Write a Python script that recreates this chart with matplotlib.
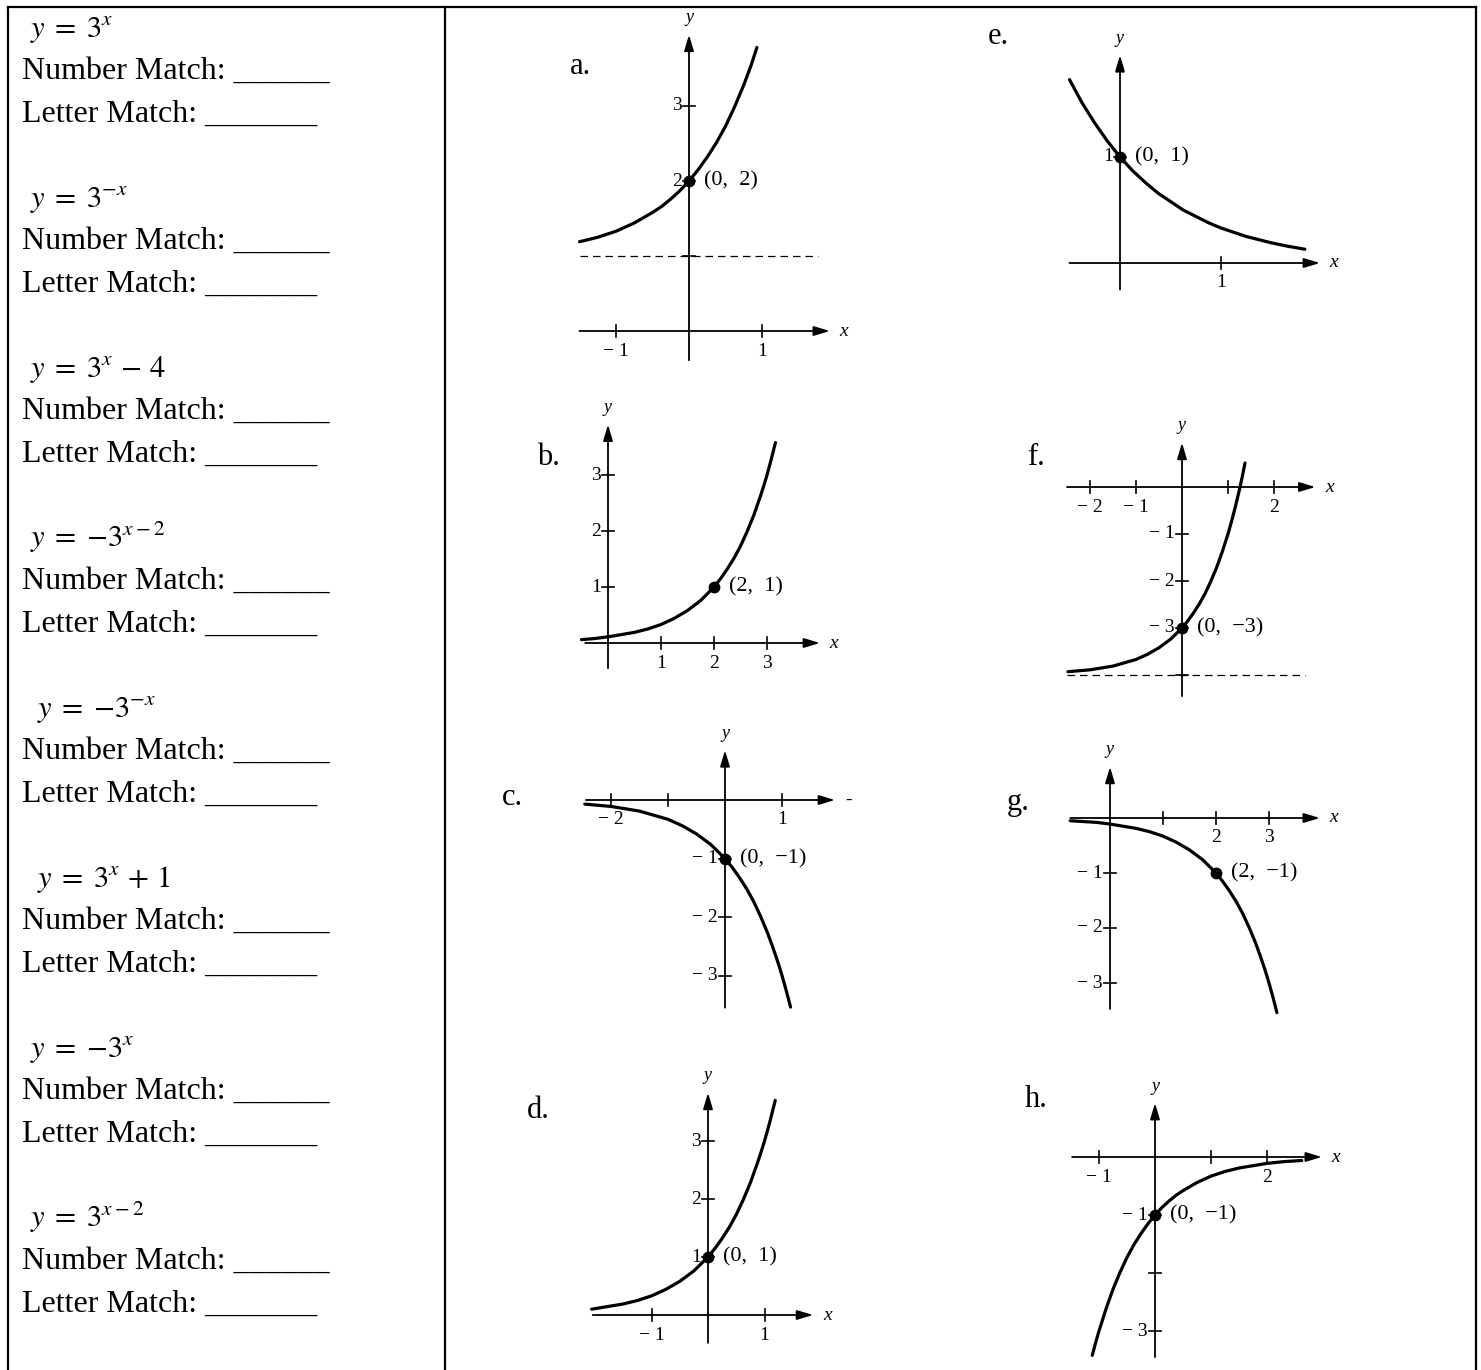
import matplotlib.pyplot as plt

plt.rcParams['font.family'] = ['Liberation Serif', 'DejaVu Serif']
plt.rcParams['mathtext.fontset'] = 'stix'

W, H = 1481, 1370

# left column: the eight equations
formulas = [r'$y\;=\;3^{x}$', r'$y\;=\;3^{-x}$', r'$y\;=\;3^{x}\,-\,4$', r'$y\;=\;{-}3^{x-2}$',
            r'$y\;=\;{-}3^{-x}$', r'$y\;=\;3^{x}\,+\,1$', r'$y\;=\;{-}3^{x}$', r'$y\;=\;3^{x-2}$']
number_line = 'Number Match: ______'
letter_line = 'Letter Match: _______'

# curves (x, y in graph units)
a_x = [-1.5, -1.25, -1.0, -0.75, -0.5, -0.375, -0.25, -0.125, 0.0, 0.125, 0.25, 0.375, 0.5, 0.625, 0.75, 0.85, 0.93]
a_y = [1.19, 1.25, 1.33, 1.44, 1.58, 1.66, 1.76, 1.87, 2.00, 2.15, 2.32, 2.51, 2.73, 2.99, 3.28, 3.54, 3.78]
b_x = [-0.5, -0.25, 0.0, 0.25, 0.5, 0.75, 1.0, 1.25, 1.5, 1.75, 2.0, 2.125, 2.25, 2.375, 2.5, 2.625,
       2.75, 2.875, 2.94, 3.0, 3.08, 3.16]
b_y = [0.06, 0.08, 0.11, 0.15, 0.19, 0.25, 0.33, 0.44, 0.58, 0.76, 1.00, 1.15, 1.32, 1.51, 1.73, 1.99,
       2.28, 2.62, 2.81, 3.00, 3.28, 3.58]
c_x = [-2.46, -2.0, -1.5, -1.0, -0.75, -0.5, -0.25, 0.0, 0.125, 0.25, 0.375, 0.5, 0.625, 0.75, 0.825,
       0.9, 0.95, 1.0, 1.075, 1.15]
c_y = [-0.07, -0.11, -0.19, -0.33, -0.44, -0.58, -0.76, -1.00, -1.15, -1.32, -1.51, -1.73, -1.99, -2.28, -2.48,
       -2.69, -2.84, -3.00, -3.26, -3.54]
d_x = [-2.06, -1.75, -1.5, -1.25, -1.0, -0.75, -0.5, -0.25, 0.0, 0.125, 0.25, 0.375, 0.5, 0.625, 0.75,
       0.875, 0.94, 1.0, 1.05, 1.1, 1.19]
d_y = [0.10, 0.15, 0.19, 0.25, 0.33, 0.44, 0.58, 0.76, 1.00, 1.15, 1.32, 1.51, 1.73, 1.99, 2.28,
       2.62, 2.81, 3.00, 3.17, 3.35, 3.70]
e_x = [-0.5, -0.375, -0.25, -0.125, 0.0, 0.125, 0.25, 0.375, 0.5, 0.625, 0.75, 0.875, 1.0, 1.125, 1.25,
       1.375, 1.5, 1.65, 1.83]
e_y = [1.73, 1.51, 1.32, 1.15, 1.00, 0.87, 0.76, 0.66, 0.58, 0.50, 0.44, 0.38, 0.33, 0.29, 0.25,
       0.22, 0.19, 0.16, 0.13]
f_x = [-2.48, -2.0, -1.5, -1.0, -0.75, -0.5, -0.25, 0.0, 0.125, 0.25, 0.375, 0.5, 0.625, 0.75, 0.875,
       1.0, 1.075, 1.15, 1.25, 1.31, 1.37]
f_y = [-3.93, -3.89, -3.81, -3.67, -3.56, -3.42, -3.24, -3.00, -2.85, -2.68, -2.49, -2.27, -2.01, -1.72, -1.38,
       -1.00, -0.74, -0.46, -0.05, 0.22, 0.51]
g_x = [-0.75, -0.25, 0.0, 0.25, 0.5, 0.75, 1.0, 1.25, 1.5, 1.75, 2.0, 2.125, 2.25, 2.375, 2.5, 2.625,
       2.75, 2.825, 2.9, 2.95, 3.0, 3.075, 3.15]
g_y = [-0.05, -0.08, -0.11, -0.15, -0.19, -0.25, -0.33, -0.44, -0.58, -0.76, -1.00, -1.15, -1.32, -1.51, -1.73, -1.99,
       -2.28, -2.48, -2.69, -2.84, -3.00, -3.26, -3.54]
h_x = [-1.12, -1.06, -1.0, -0.875, -0.75, -0.625, -0.5, -0.375, -0.25, -0.125, 0.0, 0.125, 0.25, 0.375,
       0.5, 0.75, 1.0, 1.25, 1.5, 1.75, 2.0, 2.3, 2.62]
h_y = [-3.42, -3.20, -3.00, -2.62, -2.28, -1.99, -1.73, -1.51, -1.32, -1.15, -1.00, -0.87, -0.76, -0.66,
       -0.58, -0.44, -0.33, -0.25, -0.19, -0.15, -0.11, -0.08, -0.06]

# ticks and labels of each graph
a_xticks, a_xlabels = [-1, 1], ['− 1', '1']
a_yticks, a_ylabels = [1, 2, 3], ['', '2', '3']
b_xticks, b_xlabels = [1, 2, 3], ['1', '2', '3']
b_yticks, b_ylabels = [1, 2, 3], ['1', '2', '3']
c_xticks, c_xlabels = [-2, -1, 1], ['− 2', '', '1']
c_yticks, c_ylabels = [-3, -2, -1], ['− 3', '− 2', '− 1']
d_xticks, d_xlabels = [-1, 1], ['− 1', '1']
d_yticks, d_ylabels = [1, 2, 3], ['1', '2', '3']
e_xticks, e_xlabels = [1], ['1']
e_yticks, e_ylabels = [1], ['1']
f_xticks, f_xlabels = [-2, -1, 1, 2], ['− 2', '− 1', '', '2']
f_yticks, f_ylabels = [-4, -3, -2, -1], ['', '− 3', '− 2', '− 1']
g_xticks, g_xlabels = [1, 2, 3], ['', '2', '3']
g_yticks, g_ylabels = [-3, -2, -1], ['− 3', '− 2', '− 1']
h_xticks, h_xlabels = [-1, 1, 2], ['− 1', '', '2']
h_yticks, h_ylabels = [-3, -2, -1], ['− 3', '', '− 1']

# marked points and asymptotes
a_point, a_plabel, a_asym = (0, 2), '(0,  2)', 1
b_point, b_plabel = (2, 1), '(2,  1)'
c_point, c_plabel = (0, -1), '(0,  −1)'
d_point, d_plabel = (0, 1), '(0,  1)'
e_point, e_plabel = (0, 1), '(0,  1)'
f_point, f_plabel, f_asym = (0, -3), '(0,  −3)', -4
g_point, g_plabel = (2, -1), '(2,  −1)'
h_point, h_plabel = (0, -1), '(0,  −1)'

fig = plt.figure(figsize=(W / 100, H / 100), dpi=100)

# base layer in pixel units for the table and the left column
ax0 = fig.add_axes([0, 0, 1, 1])
ax0.set_xlim(0, W)
ax0.set_ylim(H, 0)
ax0.axis('off')
for xs, ys in [([8, 1476], [7, 7]), ([8, 8], [7, H]), ([445, 445], [7, H]), ([1476, 1476], [7, H])]:
    ax0.plot(xs, ys, color='k', lw=1.6, solid_capstyle='projecting')

indent = [30, 30, 30, 30, 37, 37, 30, 30]
for i, f in enumerate(formulas):
    top = i * 170
    ax0.text(indent[i], 37 + top, f, fontsize=22, va='baseline')
    ax0.text(22, 79 + top, number_line, fontsize=23, va='baseline')
    ax0.text(22, 122 + top, letter_line, fontsize=23, va='baseline')


def draw_graph(letter, lpos, ox, oy, sx, sy, xspan, yspan, cx, cy,
               xticks, xlabels, yticks, ylabels, point, plabel,
               asym=None, asym_span=None, xname='x'):
    ax = fig.add_axes([0, 0, 1, 1])
    ax.set_xlim(-ox / sx, (W - ox) / sx)
    ax.set_ylim(-(H - oy) / sy, oy / sy)
    ax.axis('off')
    ax.patch.set_alpha(0)
    arrow = dict(arrowstyle='-|>,head_length=0.8,head_width=0.24', lw=1.3,
                 color='k', mutation_scale=12, shrinkA=0, shrinkB=0)
    ax.annotate('', xy=(xspan[1], 0), xytext=(xspan[0], 0), arrowprops=arrow)
    ax.annotate('', xy=(0, yspan[1]), xytext=(0, yspan[0]), arrowprops=arrow)
    ax.text(xspan[1] + 14 / sx, 0, xname, style='italic', fontsize=14, ha='center', va='center')
    ax.text(0, yspan[1] + 17 / sy, 'y', style='italic', fontsize=13, ha='center', va='center')
    tk = 6
    for t, lab in zip(xticks, xlabels):
        ax.plot([t, t], [-tk / sy, tk / sy], color='k', lw=1.2)
        if lab:
            ax.text(t, -20 / sy, lab, fontsize=14, ha='center', va='center')
    for t, lab in zip(yticks, ylabels):
        ax.plot([-tk / sx, tk / sx], [t, t], color='k', lw=1.2)
        if lab:
            ax.text(-7 / sx, t, lab, fontsize=14, ha='right', va='center')
    if asym is not None:
        ax.plot(asym_span, [asym, asym], color='k', lw=0.9, dashes=(6, 4))
    ax.plot(cx, cy, color='k', lw=2.3, solid_capstyle='round', solid_joinstyle='round')
    ax.plot(point[0], point[1], 'o', color='k', ms=7.5)
    ax.text(point[0] + 15 / sx, point[1], plabel, fontsize=16, ha='left', va='center')
    ax0.text(lpos[0], lpos[1], letter, fontsize=22, va='baseline')


draw_graph('a.', (570, 74), 689, 331, 73, 75, (-1.5, 1.93), (-0.39, 3.95), a_x, a_y,
           a_xticks, a_xlabels, a_yticks, a_ylabels, a_point, a_plabel, a_asym, (-1.5, 1.77))
draw_graph('b.', (537, 465), 608, 643, 53, 56, (-0.43, 4.0), (-0.45, 3.9), b_x, b_y,
           b_xticks, b_xlabels, b_yticks, b_ylabels, b_point, b_plabel)
draw_graph('c.', (502, 805), 725, 800, 57, 58.5, (-2.44, 1.93), (-3.55, 0.85), c_x, c_y,
           c_xticks, c_xlabels, c_yticks, c_ylabels, c_point, c_plabel, xname='-')
draw_graph('d.', (527, 1118), 708, 1315, 56.5, 58, (-2.04, 1.86), (-0.48, 3.83), d_x, d_y,
           d_xticks, d_xlabels, d_yticks, d_ylabels, d_point, d_plabel)
draw_graph('e.', (988, 44), 1120, 263, 101, 106, (-0.5, 1.98), (-0.25, 1.96), e_x, e_y,
           e_xticks, e_xlabels, e_yticks, e_ylabels, e_point, e_plabel)
draw_graph('f.', (1027, 465), 1182, 487, 46, 47, (-2.5, 2.9), (-4.45, 0.94), f_x, f_y,
           f_xticks, f_xlabels, f_yticks, f_ylabels, f_point, f_plabel, f_asym, (-2.5, 2.67))
draw_graph('g.', (1007, 810), 1110, 818, 53, 55, (-0.75, 3.96), (-3.47, 0.93), g_x, g_y,
           g_xticks, g_xlabels, g_yticks, g_ylabels, g_point, g_plabel)
draw_graph('h.', (1025, 1107), 1155, 1157, 56, 58, (-1.48, 2.98), (-3.45, 0.93), h_x, h_y,
           h_xticks, h_xlabels, h_yticks, h_ylabels, h_point, h_plabel)

fig.savefig('out.png', dpi=100)
